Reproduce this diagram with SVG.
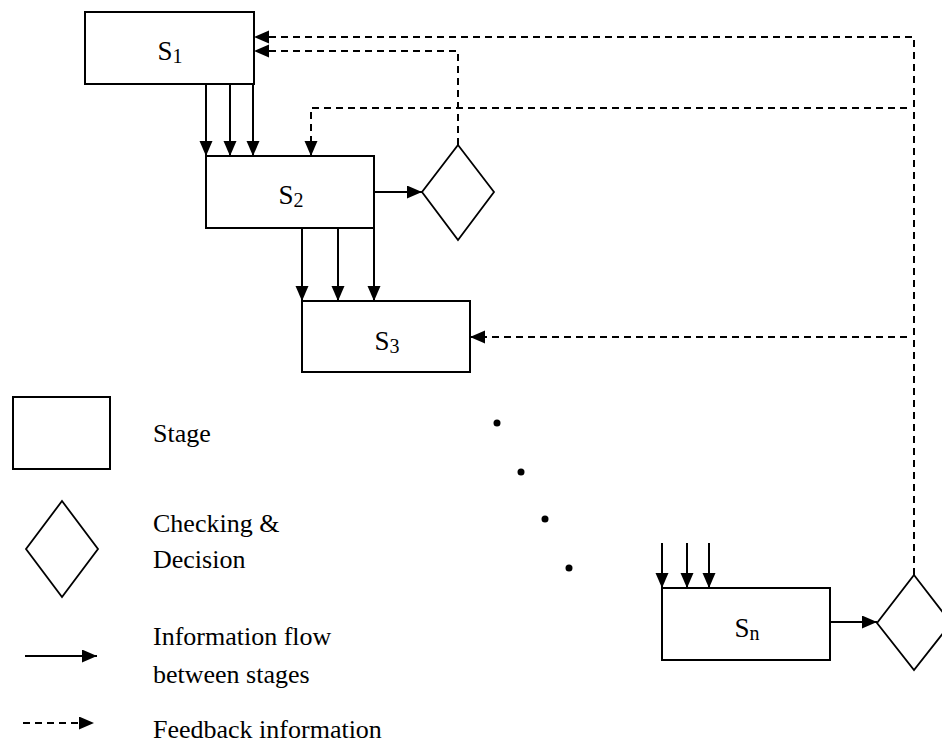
<svg xmlns="http://www.w3.org/2000/svg" width="942" height="745" viewBox="0 0 942 745">
<style>
.box{fill:#fff;stroke:#000;stroke-width:2}
.dia{fill:#fff;stroke:#000;stroke-width:1.8}
.flow{fill:none;stroke:#000;stroke-width:2}
.fb{fill:none;stroke:#000;stroke-width:2;stroke-dasharray:7,5}
.lbl{font-family:"Liberation Serif","Times New Roman",serif;font-size:26px;fill:#000}
.sl{font-size:27px}
.sub{font-size:20px}
</style>
<defs>
<marker id="ah" markerUnits="userSpaceOnUse" markerWidth="16" markerHeight="14" refX="15" refY="6.5" orient="auto">
<path d="M0,0 L15,6.5 L0,13 z" fill="#000"/>
</marker>
</defs>
<g id="connectors">
<line class="flow" x1="206" y1="84" x2="206" y2="156" marker-end="url(#ah)"/>
<line class="flow" x1="230" y1="84" x2="230" y2="156" marker-end="url(#ah)"/>
<line class="flow" x1="253" y1="84" x2="253" y2="156" marker-end="url(#ah)"/>
<line class="flow" x1="302" y1="228" x2="302" y2="301" marker-end="url(#ah)"/>
<line class="flow" x1="338" y1="228" x2="338" y2="301" marker-end="url(#ah)"/>
<line class="flow" x1="374" y1="228" x2="374" y2="301" marker-end="url(#ah)"/>
<line class="flow" x1="662" y1="543" x2="662" y2="588" marker-end="url(#ah)"/>
<line class="flow" x1="687" y1="543" x2="687" y2="588" marker-end="url(#ah)"/>
<line class="flow" x1="709" y1="543" x2="709" y2="588" marker-end="url(#ah)"/>
<line class="flow" x1="374" y1="192" x2="422" y2="192" marker-end="url(#ah)"/>
<line class="flow" x1="830" y1="622" x2="877" y2="622" marker-end="url(#ah)"/>
<path class="fb" d="M458,145 V51 H254" marker-end="url(#ah)"/>
<path class="fb" d="M914,575 V37 H254" marker-end="url(#ah)"/>
<path class="fb" d="M907,108 H311 V156" marker-end="url(#ah)"/>
<path class="fb" d="M907,337 H470" marker-end="url(#ah)"/>
</g>
<g id="s1"><rect class="box" x="85" y="12" width="169" height="72"/><text class="lbl sl" x="170" y="60" text-anchor="middle">S<tspan class="sub" dy="3">1</tspan></text></g>
<g id="s2"><rect class="box" x="206" y="156" width="168" height="72"/><text class="lbl sl" x="291" y="204" text-anchor="middle">S<tspan class="sub" dy="3">2</tspan></text></g>
<g id="s3"><rect class="box" x="302" y="301" width="168" height="71"/><text class="lbl sl" x="387" y="350" text-anchor="middle">S<tspan class="sub" dy="3">3</tspan></text></g>
<g id="sn"><rect class="box" x="662" y="588" width="168" height="72"/><text class="lbl sl" x="747" y="637" text-anchor="middle">S<tspan class="sub" dy="3">n</tspan></text></g>
<g id="d1"><polygon class="dia" points="458,145 494,192 458,240 422,192"/></g>
<g id="d2"><polygon class="dia" points="914,575 951,623 914,670 877,623"/></g>
<g id="dots">
<circle cx="497" cy="423" r="3.5"/>
<circle cx="521" cy="472" r="3.5"/>
<circle cx="545" cy="519" r="3.5"/>
<circle cx="569" cy="568" r="3.5"/>
</g>
<g id="legend">
<rect class="box" x="13" y="397" width="97" height="72"/>
<polygon class="dia" points="62,501 98,549 62,597 26,549"/>
<line class="flow" x1="25" y1="656" x2="97" y2="656" marker-end="url(#ah)"/>
<line class="fb" x1="23" y1="723" x2="94" y2="723" marker-end="url(#ah)"/>
<text class="lbl" x="153" y="442">Stage</text>
<text class="lbl" x="153" y="532">Checking &amp;</text>
<text class="lbl" x="153" y="568">Decision</text>
<text class="lbl" x="153" y="645">Information flow</text>
<text class="lbl" x="153" y="683">between stages</text>
<text class="lbl" x="153" y="738">Feedback information</text>
</g>
</svg>
